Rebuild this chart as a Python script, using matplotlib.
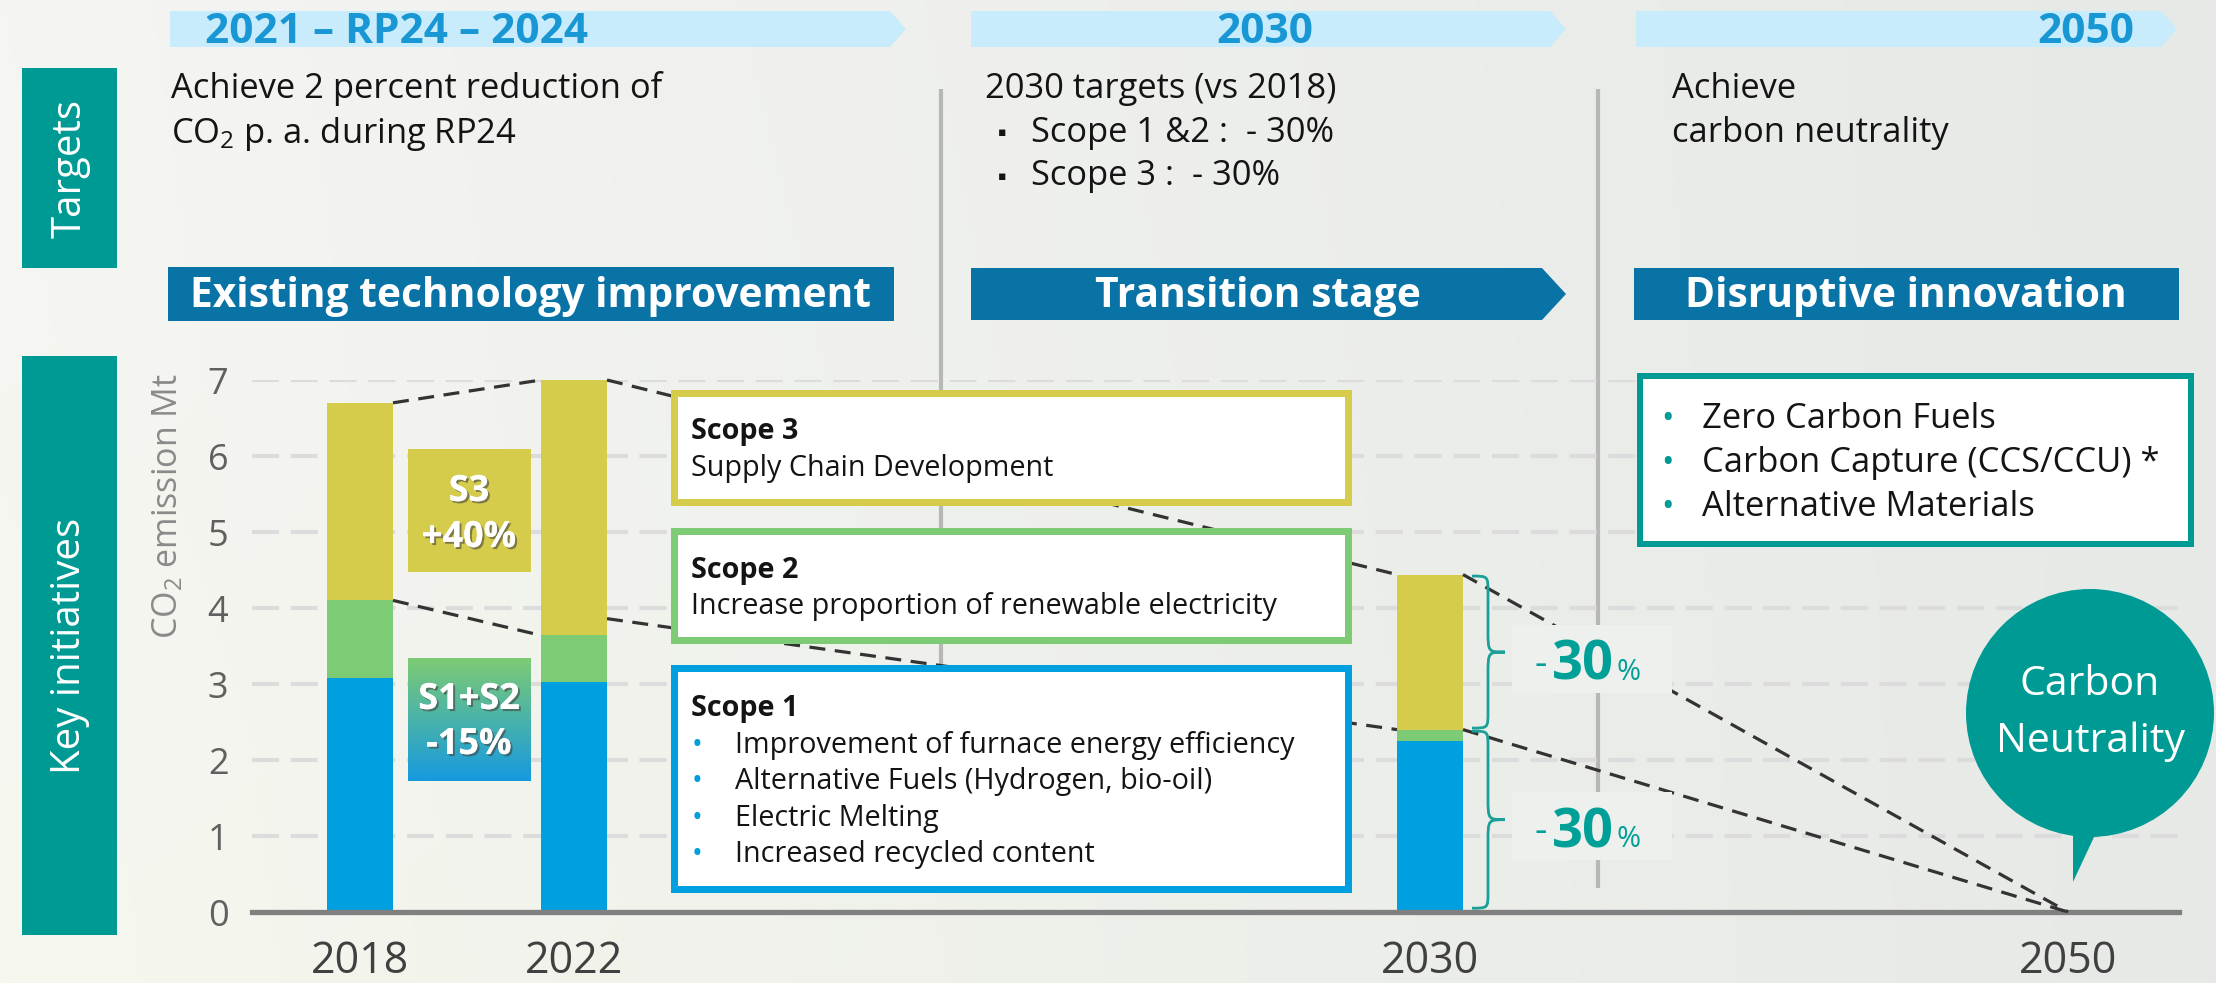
import numpy as np
import matplotlib
matplotlib.use("Agg")
import matplotlib.pyplot as plt
from matplotlib.patches import Rectangle, Polygon, Circle, PathPatch
from matplotlib.path import Path
import matplotlib.patheffects as pe

# ---------------- data ----------------
years = ['2018', '2022', '2030', '2050']
scope1 = [3.08, 3.02, 2.25, 0.0]
scope2 = [1.02, 0.62, 0.15, 0.0]
scope3 = [2.60, 3.36, 2.04, 0.0]
s12_link_start = [4.10, 3.86, 2.40]   # where the lower dashed guide leaves each bar
y_ticks = [0, 1, 2, 3, 4, 5, 6, 7]

phase_years = ['2021 – RP24 – 2024', '2030', '2050']
phase_titles = ['Existing technology improvement', 'Transition stage', 'Disruptive innovation']
target_rp24 = ['Achieve 2 percent reduction of', 'CO$_2$ p. a. during RP24']
target_2030_head = '2030 targets (vs 2018)'
target_2030_items = ['Scope 1 &2 :  - 30%', 'Scope 3 :  - 30%']
target_2050 = ['Achieve', 'carbon neutrality']
scope3_text = ['Scope 3', 'Supply Chain Development']
scope2_text = ['Scope 2', 'Increase proportion of renewable electricity']
scope1_head = 'Scope 1'
scope1_items = ['Improvement of furnace energy efficiency',
                'Alternative Fuels (Hydrogen, bio-oil)',
                'Electric Melting',
                'Increased recycled content']
disruptive_items = ['Zero Carbon Fuels', 'Carbon Capture (CCS/CCU) *', 'Alternative Materials']
s3_change = ['S3', '+40%']
s12_change = ['S1+S2', '-15%']
reduction_labels = ['30', '30']
bubble_text = ['Carbon', 'Neutrality']

# ---------------- style ----------------
plt.rcParams['font.family'] = ['Open Sans', 'DejaVu Sans']
plt.rcParams['mathtext.fontset'] = 'custom'
plt.rcParams['mathtext.rm'] = 'Open Sans'
plt.rcParams['mathtext.it'] = 'Open Sans:italic'
plt.rcParams['mathtext.bf'] = 'Open Sans:bold'

BLUE = '#009fdf'
GREEN = '#7dcb74'
YELLOW = '#d5cc4b'
TEAL = '#009a94'
DARKBLUE = '#0a73a6'
LIGHTBLUE = '#c8ecfb'
BANNER_TXT = '#1996d4'
TXT = '#141414'

W, H = 2216, 983
DPI = 100
fig = plt.figure(figsize=(W / DPI, H / DPI), dpi=DPI)

# ---------------- background layer ----------------
bg = fig.add_axes([0, 0, 1, 1], zorder=0)
gx = np.linspace(0, 1, 240)[None, :, None]
gy = np.linspace(0, 1, 120)[:, None, None]
left = np.array([245, 245, 243]) / 255
right = np.array([230, 233, 230]) / 255
img = left * (1 - gx) + right * gx
img = img + (np.array([1, 2, -5]) / 255) * (gy * (1 - gx))
img = np.clip(img, 0, 1)
bg.imshow(img, extent=(0, W, H, 0), aspect='auto', interpolation='bilinear')
bg.set_xlim(0, W)
bg.set_ylim(H, 0)
bg.axis('off')

# side tabs
bg.add_patch(Rectangle((22, 68), 95, 200, color=TEAL, lw=0))
bg.text(70, 168, 'Targets', rotation=90, ha='center', va='center',
        color='white', fontsize=29)
bg.add_patch(Rectangle((22, 356), 95, 579, color=TEAL, lw=0))
bg.text(70, 646, 'Key initiatives', rotation=90, ha='center', va='center',
        color='white', fontsize=29)

# light-blue year banners
banners = [(170, 890, 906), (971, 1550, 1566), (1636, 2161, 2177)]
for (xa, xb, xt) in banners:
    bg.add_patch(Polygon([(xa, 11), (xb, 11), (xt, 29), (xb, 47), (xa, 47)],
                         closed=True, color=LIGHTBLUE, lw=0))
bg.text(205, 43, phase_years[0], color=BANNER_TXT, fontsize=30.5, weight='bold', va='baseline')
bg.text(1265, 43, phase_years[1], color=BANNER_TXT, fontsize=30.5, weight='bold',
        va='baseline', ha='center')
bg.text(2134, 43, phase_years[2], color=BANNER_TXT, fontsize=30.5, weight='bold',
        va='baseline', ha='right')

# target texts
FS_T = 24.8
bg.text(171, 98, target_rp24[0], fontsize=FS_T, color=TXT, va='baseline')
bg.text(171, 143, target_rp24[1], fontsize=FS_T, color=TXT, va='baseline')
bg.text(985, 98, target_2030_head, fontsize=FS_T, color=TXT, va='baseline')
for i, t in enumerate(target_2030_items):
    yb = 142 + i * 43
    bg.text(1002, yb - 9, '▪', fontsize=9, color=TXT, ha='center', va='center',
            family='DejaVu Sans')
    bg.text(1031, yb, t, fontsize=FS_T, color=TXT, va='baseline')
bg.text(1672, 98, target_2050[0], fontsize=FS_T, color=TXT, va='baseline')
bg.text(1672, 142, target_2050[1], fontsize=FS_T, color=TXT, va='baseline')

# dark phase banners
bg.add_patch(Rectangle((168, 267), 726, 54, color=DARKBLUE, lw=0))
bg.add_patch(Polygon([(971, 268), (1542, 268), (1566, 294), (1542, 320), (971, 320)],
                     closed=True, color=DARKBLUE, lw=0))
bg.add_patch(Rectangle((1634, 268), 545, 52, color=DARKBLUE, lw=0))
for xc, t in zip([531, 1258, 1906], phase_titles):
    bg.text(xc, 307, t, color='white', fontsize=29.3, weight='bold', ha='center', va='baseline')

# vertical separators
for xs in (941, 1598):
    bg.plot([xs, xs], [89, 888], color='#b7b7b7', lw=3, solid_capstyle='butt')

# ---------------- chart layer ----------------
X0, X1 = 252, 2179
Y0 = 912
PPU = 76.0
ax = fig.add_axes([X0 / W, (H - Y0) / H, (X1 - X0) / W, 7 * PPU / H], zorder=1)
ax.patch.set_alpha(0)
ax.set_xlim(X0, X1)
ax.set_ylim(0, 7)

xpos = [360, 574, 1430, 2068]
bar_w = 66

s1 = np.array(scope1)
s12 = s1 + np.array(scope2)
tot = s12 + np.array(scope3)

ax.bar(xpos, scope1, width=bar_w, color=BLUE, lw=0, zorder=2)
ax.bar(xpos, scope2, bottom=s1, width=bar_w, color=GREEN, lw=0, zorder=2)
ax.bar(xpos, scope3, bottom=s12, width=bar_w, color=YELLOW, lw=0, zorder=2)

ax.set_yticks(y_ticks)
ax.set_yticklabels([str(v) for v in y_ticks])
ax.grid(axis='y', color='#dcdcdc', lw=3, linestyle=(0, (6.5, 2.8)), zorder=0)
ax.set_axisbelow(True)
ax.set_xticks(xpos)
ax.set_xticklabels(years)
ax.tick_params(axis='y', length=0, pad=17, labelsize=26, labelcolor='#606060')
ax.tick_params(axis='x', length=0, pad=20, labelsize=31, labelcolor='#404040')
for s in ('left', 'right', 'top'):
    ax.spines[s].set_visible(False)
ax.spines['bottom'].set_color('#808080')
ax.spines['bottom'].set_linewidth(3.8)
ax.spines['bottom'].set_zorder(3)

ax.set_ylabel('CO$_2$ emission Mt', fontsize=24.5, color='#8a8a8a', va='center')
ax.yaxis.set_label_coords((168 - X0) / (X1 - X0), (Y0 - 506) / (7 * PPU))

# dashed guide lines between bars
def half(i):
    return bar_w / 2 if tot[i] > 0 else 0.0

for i in range(3):
    xa = xpos[i] + half(i)
    xb = xpos[i + 1] - half(i + 1)
    ax.plot([xa, xb], [tot[i], tot[i + 1]], color='#333333', lw=2.3,
            linestyle=(0, (5.0, 3.0)), zorder=4, clip_on=False)
    ax.plot([xa, xb], [s12_link_start[i], s12[i + 1]], color='#333333', lw=2.3,
            linestyle=(0, (5.0, 3.0)), zorder=4, clip_on=False)

# braces
def brace(y_top, y_bot, x0=1472, xv=1488, xt=1505, r_end=16, r_mid=22):
    re = r_end / PPU
    rm = r_mid / PPU
    ym = (y_top + y_bot) / 2
    verts = [(x0, y_top), (xv, y_top), (xv, y_top), (xv, y_top - re),
             (xv, ym + rm),
             (xv, ym), (xv, ym), (xt, ym),
             (xv, ym), (xv, ym), (xv, ym - rm),
             (xv, y_bot + re),
             (xv, y_bot), (xv, y_bot), (x0, y_bot)]
    codes = [Path.MOVETO, Path.CURVE4, Path.CURVE4, Path.CURVE4,
             Path.LINETO,
             Path.CURVE4, Path.CURVE4, Path.CURVE4,
             Path.CURVE4, Path.CURVE4, Path.CURVE4,
             Path.LINETO,
             Path.CURVE4, Path.CURVE4, Path.CURVE4]
    ax.add_patch(PathPatch(Path(verts, codes), fill=False, edgecolor='#1aa098',
                           lw=2.0, zorder=4, clip_on=False))

brace(tot[2] - 0.02, s12[2] + 0.02)
brace(s12[2] - 0.02, 0.05)

# ---------------- overlay layer ----------------
ov = fig.add_axes([0, 0, 1, 1], zorder=2)
ov.patch.set_alpha(0)
ov.axis('off')

def box(x, y, w, h, ec, lw_px):
    ov.add_patch(Rectangle((x + lw_px / 2, y + lw_px / 2), w - lw_px, h - lw_px,
                           facecolor='white', edgecolor=ec, lw=lw_px * 72 / DPI,
                           joinstyle='miter'))

box(670, 389, 681, 116, YELLOW, 7)
box(670, 527, 681, 116, GREEN, 7)
box(670, 664, 681, 228, BLUE, 7)
box(1637, 373, 557, 174, TEAL, 6)

FS_BOX = 20.7
ov.text(691, 439, scope3_text[0], fontsize=FS_BOX, weight='bold', color=TXT, va='baseline')
ov.text(691, 476, scope3_text[1], fontsize=FS_BOX, color=TXT, va='baseline')
ov.text(691, 578, scope2_text[0], fontsize=FS_BOX, weight='bold', color=TXT, va='baseline')
ov.text(691, 614, scope2_text[1], fontsize=FS_BOX, color=TXT, va='baseline')
ov.text(691, 716, scope1_head, fontsize=FS_BOX, weight='bold', color=TXT, va='baseline')
for i, t in enumerate(scope1_items):
    yb = 753 + i * 36.3
    ov.text(697, yb, '•', fontsize=FS_BOX, color=BLUE, ha='center', va='baseline')
    ov.text(735, yb, t, fontsize=FS_BOX, color=TXT, va='baseline')

for i, t in enumerate(disruptive_items):
    yb = 428 + i * 44
    ov.text(1667, yb, '•', fontsize=24, color=TEAL, ha='center', va='baseline')
    ov.text(1702, yb, t, fontsize=24.8, color=TXT, va='baseline')

# S3 / S1+S2 change labels
shadow = [pe.withSimplePatchShadow(offset=(1.5, -1.5), shadow_rgbFace='#444444', alpha=0.6),
          pe.Normal()]
ov.add_patch(Rectangle((408, 449), 123, 123, color=YELLOW, lw=0))
ov.text(469, 492, s3_change[0], fontsize=26, weight='bold', color='white',
        ha='center', va='center', path_effects=shadow)
ov.text(469, 538, s3_change[1], fontsize=26, weight='bold', color='white',
        ha='center', va='center', path_effects=shadow)

gtop = np.array([0x7d, 0xcb, 0x74]) / 255
gbot = np.array([0x16, 0x9a, 0xdf]) / 255
tt = np.linspace(0, 1, 100)[:, None, None]
grad = gtop * (1 - tt) + gbot * tt
grad = np.repeat(grad, 4, axis=1)
ov.imshow(grad, extent=(408, 531, 781, 658), aspect='auto', interpolation='bilinear')
ov.text(469, 700, s12_change[0], fontsize=26, weight='bold', color='white',
        ha='center', va='center', path_effects=shadow)
ov.text(469, 745, s12_change[1], fontsize=26, weight='bold', color='white',
        ha='center', va='center', path_effects=shadow)

# -30% labels
RED_TEAL = '#00a098'
for yb, lab in zip([680, 847], reduction_labels):
    ov.add_patch(Rectangle((1512, yb - 55), 160, 68, facecolor='#edf0ed', lw=0))
    ov.text(1535, yb - 5, '-', fontsize=28, color=RED_TEAL, va='baseline')
    ov.text(1552, yb, lab, fontsize=39, weight='bold', color=RED_TEAL, va='baseline')
    ov.text(1616, yb, '%', fontsize=21, color=RED_TEAL, va='baseline')

# carbon neutrality bubble
ov.add_patch(Circle((2090, 713), 124, color=TEAL, lw=0))
ov.add_patch(Polygon([(2073, 820), (2102, 820), (2073, 882)], closed=True, color=TEAL, lw=0))
ov.text(2090, 685, bubble_text[0], fontsize=29.5, color='white', ha='center', va='center')
ov.text(2090, 742, bubble_text[1], fontsize=29.5, color='white', ha='center', va='center')

ov.set_xlim(0, W)
ov.set_ylim(H, 0)

fig.savefig('out.png', dpi=DPI)
